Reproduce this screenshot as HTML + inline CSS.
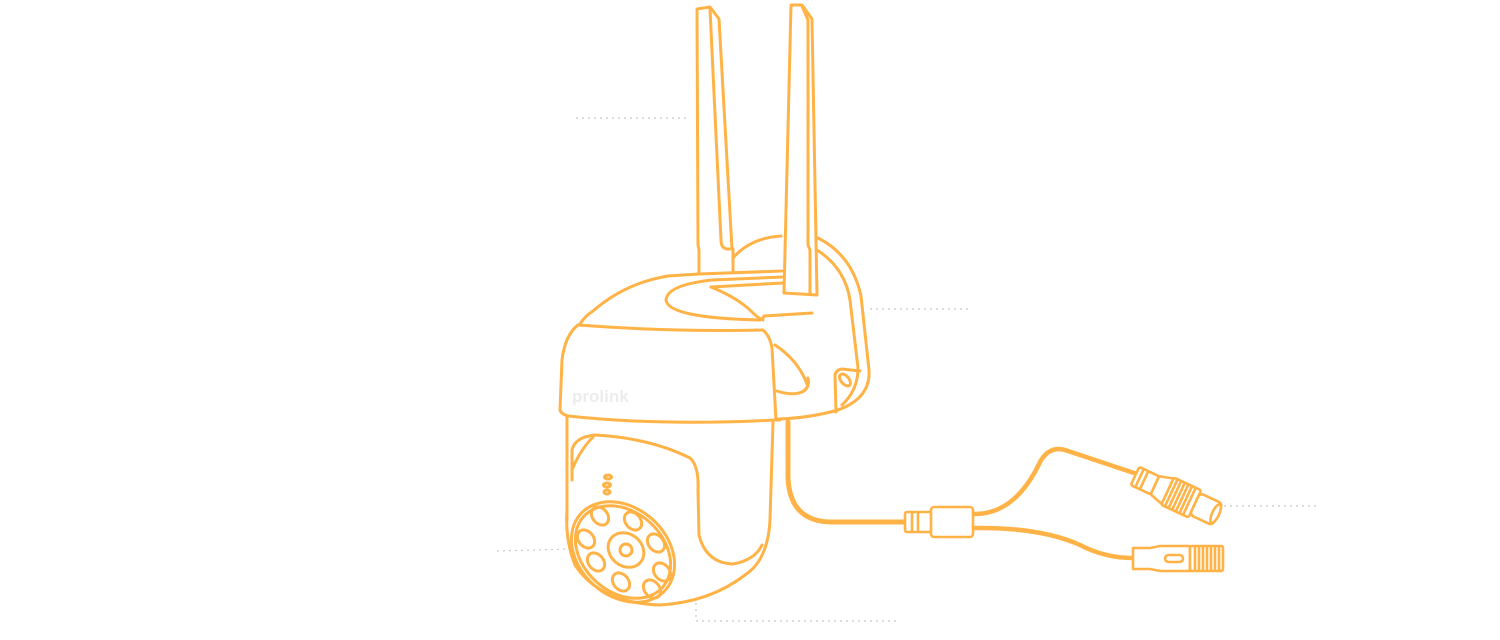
<!DOCTYPE html>
<html><head><meta charset="utf-8"><style>
html,body{margin:0;padding:0;background:#fff;}
svg{display:block}
</style></head><body>
<svg width="1500" height="640" viewBox="0 0 1500 640" xmlns="http://www.w3.org/2000/svg">
<g fill="none" stroke="#c8c8c8" stroke-width="1.2" stroke-dasharray="2 4">
<path d="M576 118 H690"/>
<path d="M870 309 H970"/>
<path d="M497 551 L570 549"/>
<path d="M696 603 V621 H900"/>
<path d="M1224 506 H1318"/>
</g>
<g fill="none" stroke="#FFB347" stroke-width="3" stroke-linejoin="round" stroke-linecap="round">
<path d="M699 272 L699 250 L698 245 L697 9 L710 7 L719 19 L732 249 L727 249 Q721 248 721 240 L710 9"/>
<path d="M733 249 L733 272"/>
<path d="M784 293 L791 5 L802 5 L812 19 L817 295 Z"/>
<path d="M802 6 L808 20 L808 245 L810 250 L810 294"/>
<path d="M733 258 Q750 238 781 236"/>
<path d="M818 238 Q852 255 861 296 L869 370 Q871 398 838 410 Q810 418 778 419"/>
<path d="M817 250 Q845 268 850 300 L858 368 Q858 390 842 405"/>
<path d="M836 412 L835 375 Q836 370 842 369 L860 371"/>
<ellipse cx="845" cy="380" rx="4" ry="7" transform="rotate(-40 845 380)"/>
<path d="M580 324 Q585 316 593 311 Q625 283 668 276 L699 274 L782 271"/>
<path d="M782 277 L712 280 Q667 285 666 300 Q668 318 760 320"/>
<path d="M711 287 L783 283"/>
<path d="M711 287 Q738 298 752 312 Q758 318 763 320"/>
<path d="M763 318 L764 316 L812 313"/>
<path d="M775 345 Q798 360 807 384"/>
<path d="M777 391 Q792 396 802 392 Q810 388 808 378"/>
<path d="M578 325 Q670 332 763 330 Q770 336 772 348 L776 420"/>
<path d="M578 325 Q565 335 562 360 L560 410 Q561 414 568 416 Q660 426 775 420 L780 420"/>
<text x="572" y="402" font-family="Liberation Sans, sans-serif" font-size="17" font-weight="bold" fill="#ececec" stroke="none">prolink</text>
<path d="M567 418 L567 520"/>
<path d="M773 422 L770 520 Q768 560 745 575 Q710 602 660 605 Q600 603 575 565 Q565 540 567 510"/>
<path d="M572 480 L572 450 Q575 437 595 435 Q650 438 690 458 Q699 466 698 490 L699 535 Q706 563 733 564 Q755 560 762 545"/>
<path d="M572 470 Q580 450 593 437"/>
<ellipse cx="608" cy="477" rx="3.5" ry="2"/>
<ellipse cx="607" cy="485" rx="3.5" ry="2"/>
<ellipse cx="607" cy="492" rx="3" ry="2"/>
<ellipse cx="623" cy="552" rx="57" ry="44" transform="rotate(42 623 552)"/>
<ellipse cx="623" cy="552" rx="53" ry="40" transform="rotate(42 623 552)"/>
<ellipse cx="626" cy="550" rx="19" ry="16" transform="rotate(40 626 550)"/>
<circle cx="626" cy="550" r="6"/>
<ellipse cx="600" cy="516" rx="7.5" ry="10" transform="rotate(-40 600 516)"/>
<ellipse cx="633" cy="521" rx="7.5" ry="10" transform="rotate(-40 633 521)"/>
<ellipse cx="586" cy="539" rx="7.5" ry="10" transform="rotate(-40 586 539)"/>
<ellipse cx="656" cy="543" rx="7.5" ry="10" transform="rotate(-40 656 543)"/>
<ellipse cx="596" cy="562" rx="7.5" ry="10" transform="rotate(-40 596 562)"/>
<ellipse cx="662" cy="572" rx="7.5" ry="10" transform="rotate(-40 662 572)"/>
<ellipse cx="621" cy="582" rx="7.5" ry="10" transform="rotate(-40 621 582)"/>
<ellipse cx="652" cy="589" rx="7.5" ry="10" transform="rotate(-40 652 589)"/>
</g>
<g fill="none" stroke="#FFB347" stroke-linecap="round" stroke-linejoin="round">
<path d="M788 422 L788 478 Q790 522 832 522 L905 522" stroke-width="5"/>
<path d="M973 514 Q1015 515 1040 462 Q1050 444 1068 451 L1137 474" stroke-width="4.5"/>
<path d="M973 528 Q1040 527 1080 545 Q1105 558 1133 558" stroke-width="4.5"/>
</g>
<g fill="#fff" stroke="#FFB347" stroke-width="2.6" stroke-linejoin="round">
<rect x="905" y="512" width="28" height="20" rx="2"/>
<path d="M912 512 V532 M918 512 V532"/>
<rect x="931" y="507" width="42" height="30" rx="3"/>
<g transform="translate(1135 476) rotate(25)">
<rect x="0" y="-10" width="22" height="20" rx="2"/>
<path d="M5 -10 V10 M10 -10 V10"/>
<path d="M22 -10 L36 -14 L36 14 L22 10 Z"/>
<rect x="36" y="-15" width="30" height="30" rx="2"/>
<path d="M40 -15 V15 M44 -15 V15 M48 -15 V15 M52 -15 V15 M56 -15 V15 M60 -15 V15"/>
<rect x="66" y="-12" width="25" height="24" rx="4"/>
<ellipse cx="89" cy="0" rx="3.5" ry="10"/>
</g>
<path d="M1133 548 L1150 548 L1160 546 L1190 546 L1190 571 L1160 571 L1150 569 L1133 569 Z"/>
<rect x="1190" y="546" width="33" height="25" rx="2"/>
<path d="M1195 546 V571 M1199 546 V571 M1203 546 V571 M1207 546 V571 M1211 546 V571 M1215 546 V571 M1219 546 V571"/>
<rect x="1165" y="555" width="18" height="7" rx="3.5"/>
</g>
</svg>
</body></html>
